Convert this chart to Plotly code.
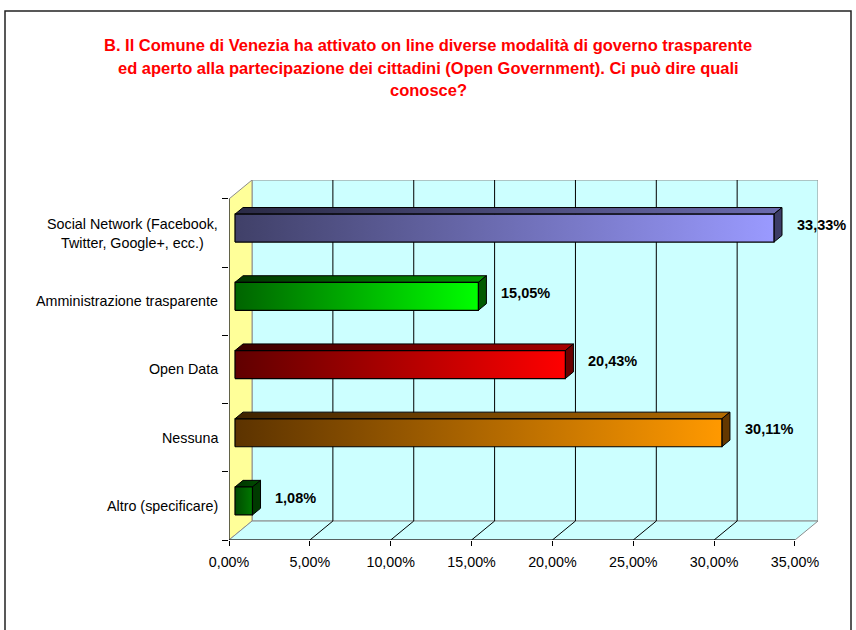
import plotly.graph_objects as go

# ---------------- data ----------------
categories = [
    "Social Network (Facebook,<br>Twitter, Google+, ecc.)",
    "Amministrazione trasparente",
    "Open Data",
    "Nessuna",
    "Altro (specificare)",
]
values = [33.33, 15.05, 20.43, 30.11, 1.08]
x_ticks = [0, 5, 10, 15, 20, 25, 30, 35]
x_tick_labels = ["0,00%", "5,00%", "10,00%", "15,00%", "20,00%", "25,00%", "30,00%", "35,00%"]
title_lines = [
    "B. Il Comune di Venezia ha attivato on line diverse modalità di governo trasparente",
    "ed aperto alla partecipazione dei cittadini (Open Government). Ci può dire quali",
    "conosce?",
]

# ---------------- styles ----------------
front_colors = [("#404068", "#9A9AFF"), ("#006400", "#00FF00"), ("#600000", "#FF0000"),
                ("#5C3300", "#FF9900"), ("#004A00", "#007800")]
top_colors = [("#2A2A45", "#6B6BAE"), ("#003400", "#009A00"), ("#380000", "#A80000"),
              ("#3E2200", "#B46C00"), ("#003200", "#004E00")]
side_colors = ["#3C3C66", "#005A00", "#6A0000", "#643800", "#003A00"]

W, H = 856, 630
L, R, T, B = 229, 818, 180, 540          # plot-area pixel box
XMAX = 35.0
N = len(categories)
DX, DY = 1.425, 0.278                     # 3D depth offset in axis units
T1, T2 = 0.26, 0.61                       # bar front / back depth fraction
HALF = 0.205                              # half bar thickness (category units)
FONT = "Arial, Liberation Sans, Helvetica, sans-serif"


def px_x(p):
    return (p - L) / (R - L)


def px_y(p):
    return (B - p) / (B - T)


fig = go.Figure()
shapes = []

# outer frame
shapes.append(dict(type="rect", xref="paper", yref="paper", x0=px_x(5), x1=px_x(851),
                   y0=px_y(650), y1=px_y(11), line=dict(color="#222222", width=1.5),
                   fillcolor="rgba(0,0,0,0)", layer="below"))

wall_line = dict(color="#8C8C8C", width=1)
# back wall
shapes.append(dict(type="rect", xref="x", yref="y", x0=DX, x1=XMAX + DX, y0=DY, y1=N + DY,
                   fillcolor="#CCFFFF", line=wall_line, layer="below"))
# side wall
shapes.append(dict(type="path", xref="x", yref="y",
                   path=f"M 0 0 L {DX} {DY} L {DX} {N + DY} L 0 {N} Z",
                   fillcolor="#FFFF99", line=wall_line, layer="below"))
# floor
shapes.append(dict(type="path", xref="x", yref="y",
                   path=f"M 0 0 L {XMAX} 0 L {XMAX + DX} {DY} L {DX} {DY} Z",
                   fillcolor="#CCFFFF", line=wall_line, layer="below"))
# grid lines on back wall + floor diagonals
for v in x_ticks[1:-1]:
    shapes.append(dict(type="line", xref="x", yref="y", x0=v + DX, x1=v + DX, y0=DY, y1=N + DY,
                       line=dict(color="black", width=1), layer="below"))
    shapes.append(dict(type="line", xref="x", yref="y", x0=v, x1=v + DX, y0=0, y1=DY,
                       line=dict(color="black", width=1), layer="below"))
# axis lines
shapes.append(dict(type="line", xref="x", yref="y", x0=0, x1=XMAX, y0=0, y1=0,
                   line=dict(color="black", width=1), layer="below"))
shapes.append(dict(type="line", xref="x", yref="y", x0=0, x1=0, y0=0, y1=N,
                   line=dict(color="black", width=1), layer="below"))

# bars (3D boxes)
ox1, oy1 = T1 * DX, T1 * DY
ox2, oy2 = T2 * DX, T2 * DY
annotations = []
for k, (cat, v) in enumerate(zip(categories, values)):
    yc = N - (k + 0.5)
    y0, y1 = yc - HALF, yc + HALF
    # top face
    fig.add_trace(go.Scatter(
        x=[ox1, v + ox1, v + ox2, ox2, ox1],
        y=[y1 + oy1, y1 + oy1, y1 + oy2, y1 + oy2, y1 + oy1],
        mode="lines", fill="toself", line=dict(color="black", width=1),
        fillgradient=dict(type="horizontal",
                          colorscale=[[0, top_colors[k][0]], [1, top_colors[k][1]]]),
        hoverinfo="skip", showlegend=False))
    # side face
    fig.add_trace(go.Scatter(
        x=[v + ox1, v + ox2, v + ox2, v + ox1, v + ox1],
        y=[y0 + oy1, y0 + oy2, y1 + oy2, y1 + oy1, y0 + oy1],
        mode="lines", fill="toself", fillcolor=side_colors[k],
        line=dict(color="black", width=1), hoverinfo="skip", showlegend=False))
    # front face
    fig.add_trace(go.Scatter(
        x=[ox1, v + ox1, v + ox1, ox1, ox1],
        y=[y0 + oy1, y0 + oy1, y1 + oy1, y1 + oy1, y0 + oy1],
        mode="lines", fill="toself", line=dict(color="black", width=1.2),
        fillgradient=dict(type="horizontal",
                          colorscale=[[0, front_colors[k][0]], [1, front_colors[k][1]]]),
        hoverinfo="skip", showlegend=False))
    # value label
    tm = (T1 + T2) / 2
    annotations.append(dict(x=v + tm * DX, y=yc + tm * DY, xref="x", yref="y",
                            text=f"{v:.2f}".replace(".", ",") + "%", showarrow=False,
                            xanchor="left", yanchor="middle", xshift=17,
                            font=dict(family=FONT, size=14.5, color="black", weight="bold")))
    # category label
    annotations.append(dict(x=0, y=yc, xref="x", yref="y", text=cat, showarrow=False,
                            xanchor="right", yanchor="middle", xshift=-9, align="center",
                            font=dict(family=FONT, size=14.3, color="black")))

# title lines (page-positioned)
for i, line in enumerate(title_lines):
    annotations.append(dict(x=px_x(W / 2), y=px_y(45 + 22.5 * i), xref="paper", yref="paper",
                            text=line, showarrow=False, xanchor="center", yanchor="middle",
                            font=dict(family=FONT, size=16.5, color="#FF0000", weight="bold")))

fig.update_layout(
    width=W, height=H,
    margin=dict(l=L, r=W - R, t=T, b=H - B, pad=0),
    paper_bgcolor="white", plot_bgcolor="white",
    showlegend=False,
    hovermode=False,
    shapes=shapes,
    annotations=annotations,
    xaxis=dict(range=[0, XMAX + DX], tickvals=x_ticks, ticktext=x_tick_labels,
               ticks="outside", ticklen=5, tickcolor="black", showgrid=False, zeroline=False,
               showline=False, fixedrange=True, ticklabelstandoff=4,
               tickfont=dict(family=FONT, size=14.3, color="black")),
    yaxis=dict(range=[0, N + DY], tickvals=list(range(N + 1)), ticks="outside", ticklen=6,
               tickcolor="black", showticklabels=False, showgrid=False, zeroline=False,
               showline=False, fixedrange=True),
)

fig.write_html("out.html", config={"displayModeBar": False},
               post_script="document.body.style.margin='0';")
